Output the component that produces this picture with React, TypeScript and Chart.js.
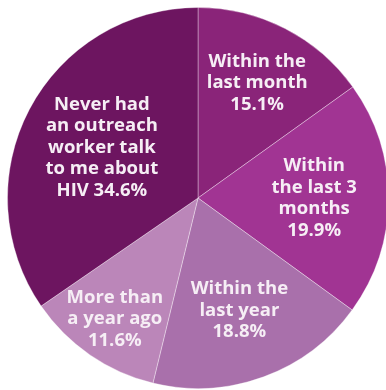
import React, { useEffect, useRef } from "react";
import { Chart, registerables } from "chart.js";

Chart.register(...registerables);

const categories: string[][] = [
  ["Within the", "last month"],
  ["Within", "the last 3", "months"],
  ["Within the", "last year"],
  ["More than", "a year ago"],
  ["Never had", "an outreach", "worker talk", "to me about", "HIV"],
];
const values: number[] = [15.1, 19.9, 18.8, 11.6, 34.6];
const colors: string[] = ["#8A2479", "#A13493", "#A970AB", "#BB86B9", "#6D1560"];
// label placement (fraction of radius along each slice's mid-angle)
const labelRadius: number[] = [0.68, 0.61, 0.63, 0.77, 0.57];
// whether percent goes on its own line
const pctOwnLine: boolean[] = [true, true, true, true, false];

const labelPlugin = {
  id: "sliceLabels",
  afterDatasetsDraw(chart: any) {
    const ctx = chart.ctx;
    const meta = chart.getDatasetMeta(0);
    ctx.save();
    ctx.fillStyle = "#F6EEF5";
    ctx.font = "bold 18.5px 'Open Sans'";
    ctx.textAlign = "center";
    ctx.textBaseline = "middle";
    const lh = 21.5;
    meta.data.forEach((arc: any, i: number) => {
      const { x, y, startAngle, endAngle, outerRadius } = arc.getProps(
        ["x", "y", "startAngle", "endAngle", "outerRadius"],
        true
      );
      const mid = (startAngle + endAngle) / 2;
      const r = outerRadius * labelRadius[i];
      const cx = x + Math.cos(mid) * r;
      const cy = y + Math.sin(mid) * r;
      const lines = categories[i].slice();
      const pct = values[i].toFixed(1) + "%";
      if (pctOwnLine[i]) lines.push(pct);
      else lines[lines.length - 1] = lines[lines.length - 1] + " " + pct;
      const top = cy - ((lines.length - 1) * lh) / 2;
      lines.forEach((t, k) => ctx.fillText(t, cx, top + k * lh));
    });
    ctx.restore();
  },
};

export default function App() {
  const ref = useRef<HTMLCanvasElement>(null);
  useEffect(() => {
    document.body.style.overflow = "hidden";
    const chart = new Chart(ref.current!, {
      type: "pie",
      data: {
        labels: categories.map((c) => c.join(" ")),
        datasets: [
          {
            data: values,
            backgroundColor: colors,
            borderColor: "rgba(255,255,255,0.35)",
            borderWidth: 1,
          },
        ],
      },
      options: {
        animation: false,
        responsive: false,
        maintainAspectRatio: false,
        layout: { padding: 0 },
        plugins: {
          legend: { display: false },
          tooltip: { enabled: false },
        },
      },
      plugins: [labelPlugin],
    });
    return () => chart.destroy();
  }, []);
  return (
    <div style={{ position: "fixed", left: 7, top: 7, width: 382, height: 382 }}>
      <canvas ref={ref} width={382} height={382} style={{ width: 382, height: 382 }} />
    </div>
  );
}
